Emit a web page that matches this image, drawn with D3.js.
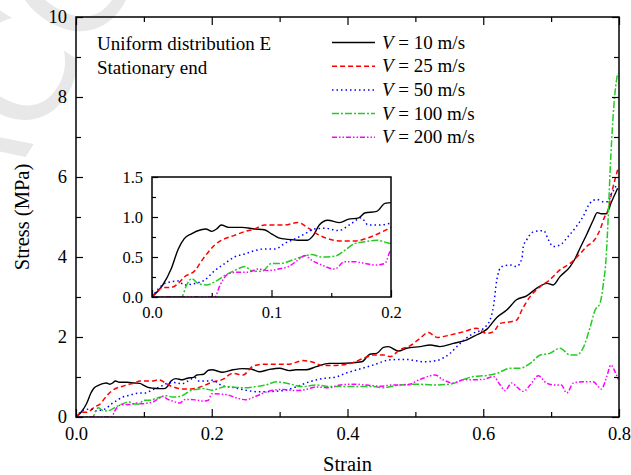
<!DOCTYPE html>
<html><head><meta charset="utf-8">
<script src="https://cdn.jsdelivr.net/npm/d3@7/dist/d3.min.js"></script>
<style>body{margin:0;background:#fff}svg{display:block}</style>
</head><body><svg id="c" width="631" height="475"></svg>
<script>
const FONT = "'Liberation Serif', 'Times New Roman', 'DejaVu Serif', serif";
const seriesNames = ["V = 10 m/s","V = 25 m/s","V = 50 m/s","V = 100 m/s","V = 200 m/s"];
const speeds = ["10","25","50","100","200"];
const colors = ["#000000","#ff0000","#0000ff","#22cc22","#ff00ff"];
const dashes = [null,"5,3","1.5,3","7,2,2,2","5,2,1.5,2,1.5,2"];
const xTicksMain = [0,0.2,0.4,0.6,0.8];
const yTicksMain = [0,2,4,6,8,10];
const xTicksInset = [0,0.1,0.2];
const yTicksInset = [0,0.5,1.0,1.5];

const v10 = [[0,0],[0.009,0.15],[0.016,0.35],[0.022,0.6],[0.027,0.73],[0.033,0.79],[0.041,0.84],[0.045,0.85],[0.05,0.82],[0.054,0.85],[0.058,0.9],[0.064,0.87],[0.075,0.87],[0.086,0.85],[0.094,0.84],[0.1,0.79],[0.106,0.74],[0.114,0.72],[0.122,0.71],[0.13,0.71],[0.135,0.77],[0.14,0.9],[0.147,0.96],[0.157,0.93],[0.164,0.97],[0.173,0.99],[0.178,1.05],[0.188,1.07],[0.195,1.17],[0.2,1.18],[0.216,1.12],[0.231,1.18],[0.246,1.21],[0.258,1.2],[0.27,1.13],[0.285,1.19],[0.3,1.22],[0.314,1.16],[0.324,1.18],[0.339,1.18],[0.354,1.26],[0.373,1.34],[0.389,1.34],[0.421,1.38],[0.433,1.57],[0.443,1.59],[0.453,1.74],[0.46,1.76],[0.475,1.65],[0.487,1.72],[0.507,1.76],[0.522,1.8],[0.536,1.76],[0.556,1.84],[0.576,1.93],[0.59,2.05],[0.605,2.19],[0.62,2.49],[0.635,2.68],[0.649,2.93],[0.664,3.03],[0.679,3.22],[0.694,3.34],[0.703,3.3],[0.713,3.51],[0.728,3.76],[0.735,3.95],[0.742,4.2],[0.752,4.55],[0.762,4.92],[0.768,5.11],[0.774,5.08],[0.781,5.08],[0.789,5.38],[0.798,5.72]];
const v25 = [[0,0],[0.005,0.08],[0.009,0.12],[0.016,0.12],[0.022,0.17],[0.027,0.25],[0.036,0.33],[0.041,0.44],[0.047,0.56],[0.0525,0.65],[0.061,0.73],[0.069,0.77],[0.078,0.82],[0.086,0.85],[0.094,0.9],[0.103,0.9],[0.111,0.9],[0.122,0.93],[0.131,0.86],[0.139,0.78],[0.147,0.73],[0.159,0.7],[0.17,0.7],[0.181,0.74],[0.192,0.81],[0.2,0.87],[0.216,0.94],[0.231,1.09],[0.246,1.05],[0.26,1.26],[0.275,1.32],[0.295,1.32],[0.314,1.32],[0.334,1.41],[0.349,1.37],[0.363,1.29],[0.383,1.29],[0.404,1.34],[0.424,1.47],[0.438,1.55],[0.453,1.55],[0.463,1.51],[0.477,1.68],[0.492,1.78],[0.507,1.97],[0.519,2.11],[0.532,1.99],[0.551,2.05],[0.571,2.13],[0.59,2.22],[0.605,2.09],[0.615,2.13],[0.625,2.34],[0.64,2.38],[0.649,2.42],[0.657,2.68],[0.669,3.01],[0.684,3.26],[0.698,3.43],[0.713,3.68],[0.728,3.84],[0.743,4.09],[0.752,4.26],[0.764,4.43],[0.772,4.68],[0.779,5.01],[0.784,5.18],[0.789,5.59],[0.794,5.93],[0.798,6.18]];
const v50 = [[0,0],[0.011,0.17],[0.022,0.2],[0.027,0.15],[0.036,0.17],[0.044,0.21],[0.0525,0.33],[0.061,0.42],[0.069,0.5],[0.078,0.54],[0.086,0.58],[0.094,0.6],[0.103,0.6],[0.111,0.67],[0.12,0.73],[0.128,0.79],[0.136,0.85],[0.145,0.86],[0.156,0.83],[0.167,0.92],[0.175,0.99],[0.181,0.9],[0.192,0.9],[0.2,0.92],[0.216,0.78],[0.231,0.74],[0.25,0.67],[0.27,0.63],[0.29,0.64],[0.309,0.67],[0.324,0.75],[0.344,0.88],[0.363,0.96],[0.383,1.0],[0.398,1.1],[0.414,1.18],[0.438,1.3],[0.463,1.43],[0.487,1.44],[0.512,1.38],[0.531,1.41],[0.551,1.59],[0.566,1.84],[0.585,2.09],[0.6,2.21],[0.61,2.43],[0.615,2.76],[0.62,3.43],[0.627,3.76],[0.64,3.8],[0.649,3.76],[0.657,3.97],[0.659,4.26],[0.664,4.43],[0.674,4.63],[0.689,4.66],[0.696,4.43],[0.703,4.26],[0.713,4.3],[0.725,4.51],[0.737,4.76],[0.747,5.01],[0.757,5.34],[0.767,5.44],[0.777,5.38],[0.784,5.38],[0.789,5.59],[0.794,5.72],[0.797,5.84]];
const v100 = [[0,0],[0.0246,0],[0.029,0.15],[0.033,0.23],[0.0385,0.17],[0.0455,0.15],[0.0525,0.19],[0.061,0.27],[0.069,0.33],[0.078,0.38],[0.083,0.33],[0.092,0.32],[0.1,0.42],[0.108,0.42],[0.117,0.46],[0.125,0.5],[0.1335,0.53],[0.142,0.5],[0.153,0.51],[0.161,0.58],[0.17,0.67],[0.178,0.69],[0.188,0.71],[0.2,0.67],[0.221,0.76],[0.246,0.73],[0.265,0.76],[0.28,0.8],[0.295,0.88],[0.314,0.83],[0.334,0.76],[0.354,0.8],[0.373,0.76],[0.389,0.76],[0.414,0.76],[0.438,0.76],[0.453,0.73],[0.477,0.8],[0.502,0.82],[0.526,0.8],[0.551,0.82],[0.57,0.93],[0.585,1.01],[0.605,1.04],[0.62,1.09],[0.64,1.22],[0.654,1.22],[0.669,1.34],[0.684,1.55],[0.698,1.59],[0.713,1.72],[0.728,1.55],[0.738,1.55],[0.747,1.72],[0.757,2.22],[0.765,2.68],[0.772,2.84],[0.777,3.34],[0.781,3.97],[0.784,4.96],[0.787,6.18],[0.791,7.43],[0.794,8.09],[0.798,8.59]];
const v200 = [[0,0],[0.0525,0],[0.057,0.15],[0.064,0.29],[0.072,0.31],[0.08,0.31],[0.089,0.35],[0.097,0.33],[0.106,0.35],[0.114,0.38],[0.122,0.46],[0.128,0.52],[0.1335,0.46],[0.142,0.4],[0.153,0.35],[0.161,0.44],[0.17,0.44],[0.178,0.42],[0.187,0.4],[0.195,0.42],[0.2,0.58],[0.221,0.56],[0.236,0.48],[0.25,0.43],[0.265,0.52],[0.285,0.65],[0.305,0.69],[0.324,0.66],[0.339,0.69],[0.354,0.75],[0.373,0.73],[0.389,0.8],[0.409,0.82],[0.428,0.8],[0.448,0.77],[0.467,0.8],[0.487,0.8],[0.507,0.94],[0.529,1.05],[0.541,0.93],[0.556,0.85],[0.571,0.93],[0.585,0.93],[0.6,0.94],[0.615,1.01],[0.625,0.8],[0.632,0.66],[0.642,0.85],[0.649,0.76],[0.659,0.64],[0.669,0.8],[0.681,1.03],[0.693,0.85],[0.705,0.8],[0.715,0.8],[0.723,0.6],[0.733,0.85],[0.747,0.88],[0.762,0.88],[0.774,0.7],[0.782,1.01],[0.788,1.3],[0.794,1.14],[0.799,0.93]];
const allSeries = [v10,v25,v50,v100,v200];

const svg = d3.select("#c");
// faint watermark (partly outside the page, as in the reference)
svg.append("text").attr("transform","translate(-20,230) rotate(-58)")
  .style("font-family","'DejaVu Sans', sans-serif").style("font-size","150px")
  .style("fill","#e8e8e8").text("ACCEPTED");

const M = {l:76,r:619,t:17,b:417};
const x = d3.scaleLinear().domain([0,0.8]).range([M.l,M.r]);
const y = d3.scaleLinear().domain([0,10]).range([M.b,M.t]);

function frameAxes(g, xs, ys, opt){
  const fs = opt.fs;
  g.append("g").attr("transform",`translate(0,${ys.range()[0]})`)
    .call(d3.axisBottom(xs).tickValues(opt.xMaj).tickSizeInner(-opt.maj).tickSizeOuter(0).tickPadding(opt.xpad).tickFormat(opt.xfmt));
  g.append("g").attr("transform",`translate(0,${ys.range()[0]})`)
    .call(d3.axisBottom(xs).tickValues(opt.xMin).tickSizeInner(-opt.min).tickSizeOuter(0).tickFormat(""));
  g.append("g").attr("transform",`translate(${xs.range()[0]},0)`)
    .call(d3.axisLeft(ys).tickValues(opt.yMaj).tickSizeInner(-opt.ymaj).tickSizeOuter(0).tickPadding(opt.ypad).tickFormat(opt.yfmt));
  g.append("g").attr("transform",`translate(${xs.range()[0]},0)`)
    .call(d3.axisLeft(ys).tickValues(opt.yMin).tickSizeInner(-opt.ymin).tickSizeOuter(0).tickFormat(""));
  if(opt.all){
    g.append("g").attr("transform",`translate(0,${ys.range()[1]})`)
      .call(d3.axisTop(xs).tickValues(opt.xMaj).tickSizeInner(-opt.maj).tickSizeOuter(0).tickFormat(""));
    g.append("g").attr("transform",`translate(0,${ys.range()[1]})`)
      .call(d3.axisTop(xs).tickValues(opt.xMin).tickSizeInner(-opt.min).tickSizeOuter(0).tickFormat(""));
    g.append("g").attr("transform",`translate(${xs.range()[1]},0)`)
      .call(d3.axisRight(ys).tickValues(opt.yMaj).tickSizeInner(-opt.ymaj).tickSizeOuter(0).tickFormat(""));
    g.append("g").attr("transform",`translate(${xs.range()[1]},0)`)
      .call(d3.axisRight(ys).tickValues(opt.yMin).tickSizeInner(-opt.ymin).tickSizeOuter(0).tickFormat(""));
  }
  g.selectAll(".domain").remove();
  g.selectAll(".tick line").attr("stroke","#000").attr("stroke-width",1.2);
  g.selectAll(".tick text").attr("font-family",null).attr("font-size",null)
    .style("font-family",FONT).style("font-size",fs+"px").style("fill","#000");
  g.append("rect").attr("x",xs.range()[0]).attr("y",ys.range()[1])
    .attr("width",xs.range()[1]-xs.range()[0]).attr("height",ys.range()[0]-ys.range()[1])
    .attr("fill","none").attr("stroke","#000").attr("stroke-width",1.5);
}

function drawLines(g, xs, ys, clipId){
  const line = d3.line().x(d=>xs(d[0])).y(d=>ys(d[1])).curve(d3.curveMonotoneX);
  const lg = g.append("g").attr("clip-path",`url(#${clipId})`);
  allSeries.forEach((s,i)=>{
    lg.append("path").datum(s).attr("d",line).attr("fill","none")
      .attr("stroke",colors[i]).attr("stroke-width",i===0?1.4:1.5)
      .attr("stroke-dasharray",dashes[i]);
  });
}

const defs = svg.append("defs");
defs.append("clipPath").attr("id","clipMain").append("rect")
  .attr("x",M.l).attr("y",M.t).attr("width",M.r-M.l).attr("height",M.b-M.t);

const main = svg.append("g");
drawLines(main, x, y, "clipMain");
frameAxes(main, x, y, {fs:18.5, xMaj:xTicksMain, xMin:[0.1,0.3,0.5,0.7], yMaj:yTicksMain, yMin:[1,3,5,7,9],
  maj:8, min:5, ymaj:7, ymin:5, xpad:10, ypad:9, all:true, xfmt:d3.format(".1f"), yfmt:d3.format("d")});

function txt(sel, size){ return sel.style("font-family",FONT).style("font-size",size+"px").style("fill","#000"); }

// axis titles
txt(svg.append("text").attr("x",(M.l+M.r)/2).attr("y",471).attr("text-anchor","middle"),20.5).text("Strain");
txt(svg.append("text").attr("transform",`translate(29,${(M.t+M.b)/2}) rotate(-90)`).attr("text-anchor","middle"),20.5).text("Stress (MPa)");

// annotation
txt(svg.append("text").attr("x",97).attr("y",50),19).text("Uniform distribution E");
txt(svg.append("text").attr("x",97).attr("y",74),19).text("Stationary end");

// legend
const leg = svg.append("g");
speeds.forEach((sp,i)=>{
  const cy = 42.5 + i*23.7;
  leg.append("line").attr("x1",332).attr("x2",375).attr("y1",cy).attr("y2",cy)
    .attr("stroke",colors[i]).attr("stroke-width",i===0?1.4:1.5).attr("stroke-dasharray",dashes[i]);
  const t = txt(leg.append("text").attr("x",382).attr("y",cy+6),19);
  t.append("tspan").style("font-style","italic").text("V");
  t.append("tspan").text(" = " + sp + " m/s");
});

// inset
const I = {l:152,r:391,t:177,b:297};
const xi = d3.scaleLinear().domain([0,0.2]).range([I.l,I.r]);
const yi = d3.scaleLinear().domain([0,1.5]).range([I.b,I.t]);
defs.append("clipPath").attr("id","clipInset").append("rect")
  .attr("x",I.l).attr("y",I.t).attr("width",I.r-I.l).attr("height",I.b-I.t);
const inset = svg.append("g");
inset.append("rect").attr("x",I.l).attr("y",I.t).attr("width",I.r-I.l).attr("height",I.b-I.t).attr("fill","#fff");
drawLines(inset, xi, yi, "clipInset");
frameAxes(inset, xi, yi, {fs:16.5, xMaj:xTicksInset, xMin:[0.05,0.15], yMaj:yTicksInset, yMin:[0.25,0.75,1.25],
  maj:7, min:4, ymaj:6, ymin:4, xpad:9, ypad:9, all:false, xfmt:d3.format(".1f"), yfmt:d3.format(".1f")});
</script></body></html>
